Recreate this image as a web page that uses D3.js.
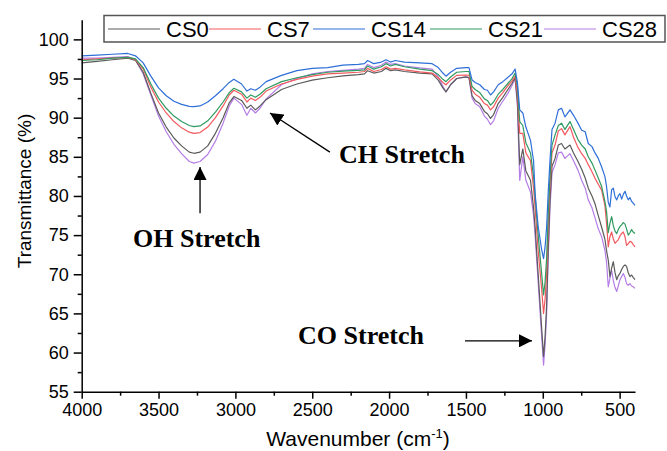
<!DOCTYPE html>
<html>
<head>
<meta charset="utf-8">
<title>FTIR spectra CS0-CS28</title>
<script src="https://d3js.org/d3.v7.min.js"></script>
<style>
  body { margin: 0; background: #fff; }
  svg text { font-family: "Liberation Sans", Arial, sans-serif; fill: #000; }
  .note { font-family: "Liberation Serif", "Times New Roman", serif; font-weight: bold; font-size: 26px; }
  .axis path, .axis line { stroke: #000; stroke-width: 1.5px; }
  .series { fill: none; stroke-width: 1.2px; stroke-linejoin: round; }
</style>
</head>
<body>
<svg id="chart" width="667" height="451"></svg>
<script>
// wavenumber grid (cm-1) shared by all spectra
const wavenumbers = [4000,3900,3800,3700,3650,3600,3550,3500,3450,3400,
  3350,3300,3270,3230,3180,3130,3080,3040,3010,2960,
  2925,2900,2870,2840,2800,2700,2600,2500,2400,2300,
  2200,2160,2140,2100,2050,2020,1990,1960,1900,1800,
  1720,1680,1650,1630,1600,1560,1500,1480,1460,1440,
  1410,1380,1360,1340,1320,1290,1260,1230,1200,1180,
  1165,1150,1130,1110,1080,1060,1050,1030,1007,995,
  985,975,965,953,940,920,899,878,856,823,
  800,771,747,724,704,680,660,639,617,596,
  585,574,563,552,541,530,519,509,498,487,
  476,465,455,444,433,422,412,400];

// transmittance (%)
const cs0 = [97.0,97.2,97.4,97.6,97.3,95.8,93.1,90.6,88.8,87.4,
  86.4,85.6,85.45,85.6,86.4,88.0,90.0,91.9,92.7,92.2,
  91.2,91.6,91.0,91.5,92.3,93.6,94.3,94.8,95.1,95.35,
  95.5,95.6,96.0,95.7,95.9,96.3,96.0,96.1,95.9,95.7,
  95.6,94.8,93.8,93.3,94.2,95.0,95.2,95.1,92.8,92.2,
  91.8,90.8,90.5,89.9,90.4,91.8,92.6,93.5,94.4,95.1,
  92.0,84.0,86.0,83.2,82.0,78.5,76.0,70.0,63.0,59.5,
  62.0,66.0,73.0,79.5,83.8,84.8,86.5,86.7,86.0,86.5,
  85.5,84.4,83.4,82.3,81.0,80.0,79.0,77.5,76.0,74.5,
  73.0,71.8,69.7,70.8,71.6,70.2,69.3,69.8,70.1,70.6,
  71.0,71.2,71.0,70.2,69.7,69.9,69.6,69.3];

const cs7 = [97.4,97.5,97.6,97.7,97.4,96.2,93.9,92.0,90.6,89.5,
  88.7,88.15,88.0,88.1,88.8,90.0,91.5,92.9,93.5,93.0,
  92.0,92.5,92.2,92.6,93.4,94.3,94.9,95.3,95.6,95.7,
  95.8,95.9,96.3,95.9,96.15,96.5,96.2,96.3,96.1,95.85,
  95.7,95.1,94.5,94.2,94.8,95.4,95.45,95.4,93.5,93.0,
  92.6,91.8,91.6,91.0,91.4,92.5,93.2,94.0,94.7,95.3,
  93.0,88.0,88.0,85.5,84.5,81.0,78.5,73.0,68.0,65.0,
  66.8,70.0,76.0,81.5,85.5,86.5,88.3,88.6,87.8,88.85,
  87.5,86.2,85.4,84.8,84.0,83.1,82.25,81.5,80.75,78.8,
  76.5,73.5,74.8,75.4,74.5,73.95,74.2,74.4,74.9,75.2,
  75.4,74.8,73.7,73.9,74.2,74.1,73.8,73.5];

const cs14 = [97.9,98.0,98.1,98.2,97.9,97.0,95.3,93.8,92.8,92.1,
  91.7,91.45,91.4,91.5,92.0,92.8,93.7,94.5,94.9,94.3,
  93.4,93.7,93.5,93.9,94.6,95.4,96.0,96.3,96.4,96.7,
  96.8,96.9,97.3,96.9,97.1,97.4,97.1,97.3,97.1,97.0,
  96.9,96.4,95.7,95.3,95.8,96.3,96.4,96.4,94.8,94.5,
  94.2,93.6,93.5,92.9,93.3,94.2,94.6,95.1,95.6,96.2,
  94.5,91.0,90.6,88.8,87.1,84.5,80.3,76.1,73.1,72.0,
  73.5,76.0,80.3,84.6,88.5,89.3,91.0,91.2,90.1,91.0,
  90.3,89.3,88.4,88.2,86.7,86.3,85.5,84.8,83.7,82.5,
  81.2,79.2,78.6,80.8,81.0,79.9,79.5,80.0,80.3,79.6,
  80.2,80.6,80.0,79.5,79.8,79.3,79.1,78.8];

const cs21 = [97.3,97.4,97.6,97.7,97.5,96.4,94.3,92.5,91.2,90.2,
  89.5,89.0,88.85,88.95,89.6,90.7,92.0,93.2,93.75,93.3,
  92.5,92.9,92.6,93.0,93.7,94.6,95.1,95.5,95.8,95.95,
  96.05,96.1,96.6,96.2,96.5,96.9,96.6,96.8,96.5,96.2,
  96.0,95.5,94.9,94.6,95.2,95.8,95.9,95.9,94.0,93.6,
  93.2,92.4,92.2,91.6,92.0,93.0,93.6,94.3,95.0,95.7,
  94.0,89.5,89.0,86.8,85.5,82.5,80.0,75.0,70.0,67.35,
  69.0,72.0,77.5,82.5,86.5,87.8,89.0,89.3,88.5,89.5,
  88.5,87.2,86.5,86.0,85.0,84.2,83.3,82.3,81.2,79.3,
  78.0,75.3,76.5,77.35,76.2,75.5,75.2,75.7,76.1,76.3,
  76.6,76.4,75.8,75.0,75.3,75.7,75.4,75.2];

const cs28 = [97.6,97.6,97.7,97.8,97.4,95.6,92.9,90.2,88.2,86.6,
  85.4,84.4,84.2,84.4,85.3,87.0,89.3,91.5,92.5,91.7,
  90.3,91.2,90.6,91.2,92.4,94.2,95.0,95.6,95.9,96.05,
  96.2,96.3,96.8,96.4,96.7,97.1,96.8,96.9,96.6,96.35,
  96.2,95.2,94.0,93.3,94.2,95.0,95.2,95.1,92.5,91.8,
  91.4,90.2,89.8,89.1,89.6,91.2,92.1,93.0,94.1,95.0,
  91.5,82.0,85.0,82.0,80.5,77.5,75.0,69.0,62.0,58.4,
  61.0,65.0,72.0,78.5,83.0,84.0,85.5,85.6,84.8,85.4,
  84.5,83.3,82.0,81.0,79.5,78.5,77.2,75.8,74.8,73.1,
  71.5,68.4,69.5,70.5,69.2,68.3,67.8,68.5,69.3,69.7,
  70.1,69.6,68.8,68.6,68.8,68.5,68.4,68.2];

const seriesNames = ["CS0", "CS7", "CS14", "CS21", "CS28"];
const seriesValues = [cs0, cs7, cs14, cs21, cs28];
const seriesColors = ["#5b5b5b", "#f25a5f", "#2e6fd8", "#2f9a60", "#b57de6"];

const yTicks = [55, 60, 65, 70, 75, 80, 85, 90, 95, 100];
const yMinor = [57.5, 62.5, 67.5, 72.5, 77.5, 82.5, 87.5, 92.5, 97.5];
const xTicks = [4000, 3500, 3000, 2500, 2000, 1500, 1000, 500];
const xMinor = [3750, 3250, 2750, 2250, 1750, 1250, 750];

const annotations = [
  {text: "OH Stretch", tx: 3666, ty: 73.5, from: [3230, 77.8], to: [3230, 83.7]},
  {text: "CH Stretch", tx: 2326, ty: 84.2, from: [2385, 85.6], to: [2775, 90.6]},
  {text: "CO Stretch", tx: 2592, ty: 61.1, from: [1506, 61.5], to: [1070, 61.5]}
];

const svg = d3.select("#chart");

const x = d3.scaleLinear().domain([4000, 400]).range([81.7, 635]);
const y = d3.scaleLinear().domain([55, 102.5]).range([391.7, 19.8]);

// spectra
const line = d3.line()
  .x((d, i) => x(wavenumbers[i]))
  .y(d => y(d));

const drawOrder = [4, 0, 1, 3, 2];
svg.append("g")
  .selectAll("path")
  .data(drawOrder)
  .join("path")
  .attr("class", "series")
  .attr("stroke", i => seriesColors[i])
  .attr("d", i => line(seriesValues[i]));

// axes
const yAxis = svg.append("g")
  .attr("class", "axis")
  .attr("transform", `translate(${x.range()[0]},0)`)
  .call(d3.axisLeft(y).tickValues(yTicks).tickSize(8).tickSizeOuter(0).tickPadding(5));
yAxis.selectAll("text").style("font-size", "18px");

svg.append("g")
  .attr("class", "axis")
  .attr("transform", `translate(${x.range()[0]},0)`)
  .call(d3.axisLeft(y).tickValues(yMinor).tickSize(4).tickFormat(""))
  .select(".domain").remove();

const xAxis = svg.append("g")
  .attr("class", "axis")
  .attr("transform", `translate(0,${y.range()[0]})`)
  .call(d3.axisBottom(x).tickValues(xTicks).tickFormat(d3.format("d"))
    .tickSize(7).tickSizeOuter(0).tickPadding(5));
xAxis.selectAll("text").style("font-size", "18px");

svg.append("g")
  .attr("class", "axis")
  .attr("transform", `translate(0,${y.range()[0]})`)
  .call(d3.axisBottom(x).tickValues(xMinor).tickSize(4).tickFormat(""))
  .select(".domain").remove();

svg.selectAll(".axis text").attr("fill", "#000");

// axis titles
const xt = svg.append("text")
  .attr("x", 358)
  .attr("y", 446)
  .attr("text-anchor", "middle")
  .style("font-size", "21px");
xt.append("tspan").text("Wavenumber (cm");
xt.append("tspan").attr("dy", -8).style("font-size", "13px").text("-1");
xt.append("tspan").attr("dy", 8).text(")");

svg.append("text")
  .attr("transform", "translate(31,191) rotate(-90)")
  .attr("text-anchor", "middle")
  .style("font-size", "19px")
  .text("Transmittance (%)");

// legend
const legendStarts = [108, 209, 313, 430, 544];
const legend = svg.append("g");
legend.append("rect")
  .attr("x", 104).attr("y", 15.5)
  .attr("width", 561).attr("height", 26.5)
  .attr("fill", "#fff")
  .attr("stroke", "#555")
  .attr("stroke-width", 1.5);
const items = legend.selectAll("g.item")
  .data(seriesNames)
  .join("g")
  .attr("class", "item")
  .attr("transform", (d, i) => `translate(${legendStarts[i]},29)`);
items.append("line")
  .attr("x1", 0).attr("x2", 52)
  .attr("stroke", (d, i) => seriesColors[i])
  .attr("stroke-width", 1.2);
items.append("text")
  .attr("x", 58)
  .attr("dy", "0.36em")
  .style("font-size", "22px")
  .text(d => d);

// annotations with arrows
svg.append("defs").append("marker")
  .attr("id", "arrow")
  .attr("viewBox", "0 0 10 10")
  .attr("refX", 10).attr("refY", 5)
  .attr("markerWidth", 13).attr("markerHeight", 13)
  .attr("markerUnits", "userSpaceOnUse")
  .attr("orient", "auto")
  .append("path")
  .attr("d", "M0,0L10,5L0,10Z")
  .attr("fill", "#000");

const notes = svg.append("g");
notes.selectAll("line")
  .data(annotations)
  .join("line")
  .attr("x1", d => x(d.from[0])).attr("y1", d => y(d.from[1]))
  .attr("x2", d => x(d.to[0])).attr("y2", d => y(d.to[1]))
  .attr("stroke", "#000")
  .attr("stroke-width", 1.3)
  .attr("marker-end", "url(#arrow)");
notes.selectAll("text")
  .data(annotations)
  .join("text")
  .attr("class", "note")
  .attr("x", d => x(d.tx))
  .attr("y", d => y(d.ty))
  .text(d => d.text);
</script>
</body>
</html>
